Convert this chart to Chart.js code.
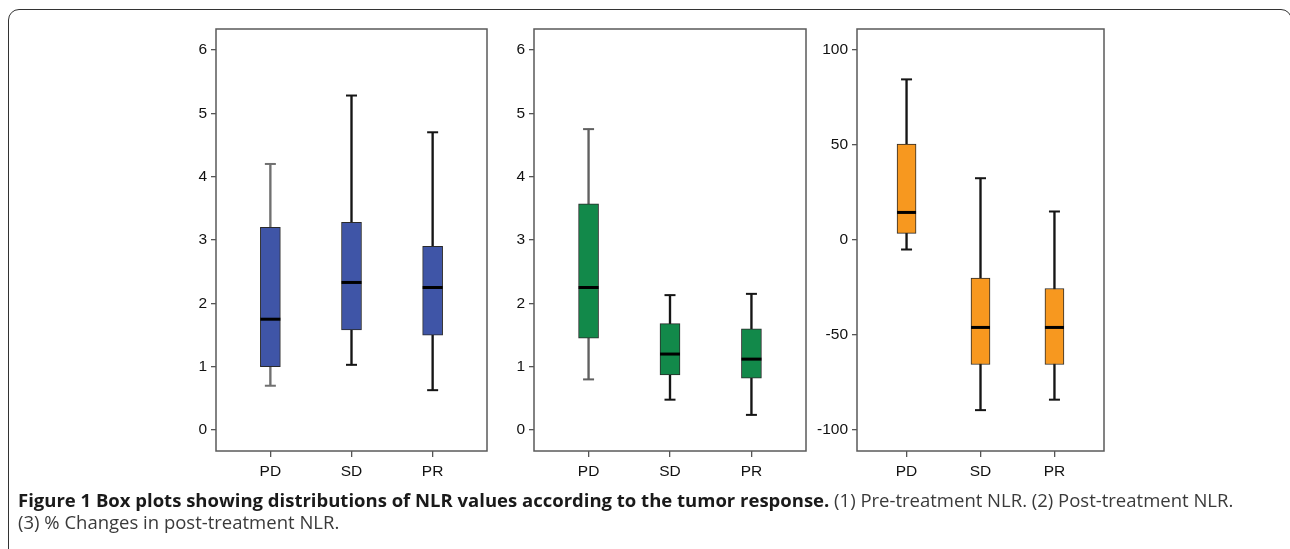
<!DOCTYPE html>
<html><head><meta charset="utf-8">
<script src="https://cdn.jsdelivr.net/npm/chart.js@4/dist/chart.umd.min.js"></script>
<style>
body{margin:0;width:1290px;height:549px;background:#fff;position:relative;overflow:hidden}
#frame{position:absolute;left:8px;top:9px;width:1284px;height:600px;border:1.5px solid #333;border-radius:11px;box-sizing:border-box}
canvas{position:absolute}
#cap{position:absolute;left:18px;top:489px;font-family:"Open Sans",sans-serif;font-size:18.5px;line-height:22px;color:#3a3a3a;white-space:nowrap}
#cap b{color:#1a1a1a}
</style></head><body>
<div id="frame"></div>
<canvas id="c1" width="341" height="470" style="left:150px;top:20px;width:341px;height:470px"></canvas>
<canvas id="c2" width="342" height="470" style="left:468px;top:20px;width:342px;height:470px"></canvas>
<canvas id="c3" width="317" height="470" style="left:791px;top:20px;width:317px;height:470px"></canvas>
<div id="cap"><b>Figure 1 Box plots showing distributions of NLR values according to the tumor response.</b> (1) Pre-treatment NLR. (2) Post-treatment NLR.<br>(3) % Changes in post-treatment NLR.</div>
<script>
// ---- data ----
const categories = ['PD', 'SD', 'PR'];
const nlrTicks = [0, 1, 2, 3, 4, 5, 6];
const changeTicks = [-100, -50, 0, 50, 100];

const preMin = [0.70, 1.03, 0.63];
const preQ1  = [1.00, 1.58, 1.50];
const preMed = [1.75, 2.33, 2.25];
const preQ3  = [3.20, 3.28, 2.90];
const preMax = [4.20, 5.28, 4.70];

const postMin = [0.80, 0.48, 0.24];
const postQ1  = [1.45, 0.87, 0.82];
const postMed = [2.25, 1.20, 1.12];
const postQ3  = [3.57, 1.68, 1.60];
const postMax = [4.75, 2.13, 2.15];

const chgMin = [-5.0, -89.5, -84.0];
const chgQ1  = [3.5, -65.5, -65.5];
const chgMed = [14.5, -46.0, -46.0];
const chgQ3  = [50.5, -20.0, -25.5];
const chgMax = [84.5, 32.5, 15.0];

const framePlugin = {
  id: 'frame',
  afterDraw(chart) {
    const a = chart.chartArea, ctx = chart.ctx;
    ctx.save();
    ctx.strokeStyle = '#5a5a5a';
    ctx.lineWidth = 1.5;
    ctx.strokeRect(a.left, a.top, a.right - a.left, a.bottom - a.top);
    ctx.restore();
  }
};

function makeChart(id, mn, q1, md, q3, mx, color, ticks, ymin, ymax, boxW, whiskerCols) {
  const pos = categories.map((c, i) => i + 1);
  const pts = arr => arr.map((v, i) => ({x: pos[i], y: v}));
  const rng = (a, b) => a.map((v, i) => ({x: pos[i], y: [v, b[i]]}));
  const tickFont = {family: '"Liberation Sans", Arial, sans-serif', size: 15.5};
  new Chart(document.getElementById(id), {
    type: 'bar',
    data: {
      datasets: [
        {type: 'bar', data: rng(mn, mx), grouped: false, barThickness: 1.7, backgroundColor: whiskerCols, borderWidth: 0, order: 4},
        {type: 'bar', data: rng(q1, q3), grouped: false, barThickness: boxW, backgroundColor: color, borderColor: '#2a2a2a', borderWidth: 1, borderSkipped: false, order: 3},
        {type: 'line', data: pts(mx), showLine: false, pointStyle: 'line', pointRadius: 5.5, pointHoverRadius: 0, pointBorderWidth: 2, pointBorderColor: whiskerCols, order: 2},
        {type: 'line', data: pts(mn), showLine: false, pointStyle: 'line', pointRadius: 5.5, pointHoverRadius: 0, pointBorderWidth: 2, pointBorderColor: whiskerCols, order: 2},
        {type: 'line', data: pts(md), showLine: false, pointStyle: 'line', pointRadius: boxW / 2, pointHoverRadius: 0, pointBorderWidth: 3, pointBorderColor: '#000', order: 1}
      ]
    },
    options: {
      responsive: false,
      animation: false,
      events: [],
      layout: {autoPadding: false, padding: {top: 9, right: 4, left: 0, bottom: 0}},
      plugins: {legend: {display: false}, tooltip: {enabled: false}},
      scales: {
        x: {
          type: 'linear', min: 0.33, max: 3.67, offset: false,
          afterBuildTicks: s => { s.ticks = pos.map(v => ({value: v})); },
          afterFit: s => { s.height = 39; s.paddingLeft = 0; s.paddingRight = 0; },
          ticks: {callback: (v, i) => categories[i], font: tickFont, color: '#111', padding: 5, maxRotation: 0, autoSkip: false},
          grid: {offset: false, drawOnChartArea: false, drawTicks: true, tickLength: 6, color: '#555', lineWidth: 1.3},
          border: {display: false}
        },
        y: {
          type: 'linear', min: ymin, max: ymax,
          afterBuildTicks: s => { s.ticks = ticks.map(v => ({value: v})); },
          afterFit: s => { s.width = 66; s.paddingTop = 0; s.paddingBottom = 0; },
          ticks: {font: tickFont, color: '#111', padding: 4, autoSkip: false},
          grid: {drawOnChartArea: false, drawTicks: true, tickLength: 5, color: '#555', lineWidth: 1.3},
          border: {display: false}
        }
      }
    },
    plugins: [framePlugin]
  });
}

makeChart('c1', preMin, preQ1, preMed, preQ3, preMax, '#3f55a7', nlrTicks, -0.33, 6.33, 20, ['#707070', '#151515', '#151515']);
makeChart('c2', postMin, postQ1, postMed, postQ3, postMax, '#12894a', nlrTicks, -0.33, 6.33, 20, ['#606060', '#151515', '#151515']);
makeChart('c3', chgMin, chgQ1, chgMed, chgQ3, chgMax, '#f7981f', changeTicks, -111, 111, 19, ['#151515', '#151515', '#151515']);
</script>
</body></html>
